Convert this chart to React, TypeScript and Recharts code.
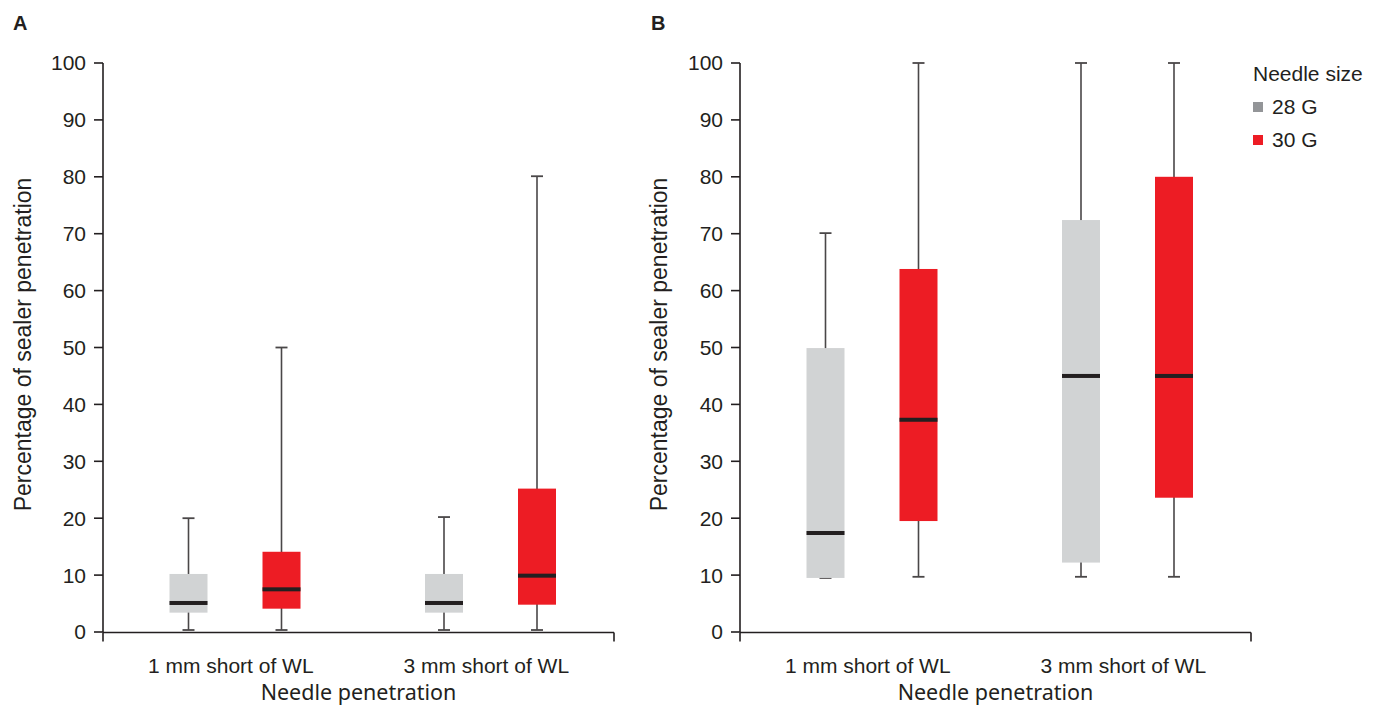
import React from 'react';
import { ComposedChart, Bar, XAxis, YAxis } from 'recharts';

// ---------- data ----------
const CATEGORIES = ['1 mm short of WL', '3 mm short of WL'];
const Y_TICKS = [0, 10, 20, 30, 40, 50, 60, 70, 80, 90, 100];
const SERIES_NAMES = ['28 G', '30 G'];

// Panel A
const A_28_MIN = [0.35, 0.35];
const A_28_Q1 = [3.4, 3.4];
const A_28_MED = [5.1, 5.1];
const A_28_Q3 = [10.2, 10.2];
const A_28_MAX = [20, 20.2];

const A_30_MIN = [0.35, 0.35];
const A_30_Q1 = [4.1, 4.8];
const A_30_MED = [7.5, 9.9];
const A_30_Q3 = [14.1, 25.2];
const A_30_MAX = [50, 80.1];

// Panel B
const B_28_MIN = [9.5, 9.7];
const B_28_Q1 = [9.5, 12.2];
const B_28_MED = [17.4, 45];
const B_28_Q3 = [49.9, 72.4];
const B_28_MAX = [70.1, 100];

const B_30_MIN = [9.7, 9.7];
const B_30_Q1 = [19.5, 23.6];
const B_30_MED = [37.3, 45];
const B_30_Q3 = [63.8, 80];
const B_30_MAX = [100, 100];

// ---------- styles ----------
const BOX_FILL_28 = '#d1d3d4';
const BOX_FILL_30 = '#ed1c24';
const LEGEND_FILL_28 = '#939598';
const LEGEND_FILL_30 = '#ed1c24';
const INK = '#231f20';
const WHISKER = '#4a4748';
const SHIFT = 4.5;
const ARIAL = '"Liberation Sans", Arial, sans-serif';

type Stats = { min: number; q1: number; med: number; q3: number; max: number };

const build = (a: number[][], b: number[][]) =>
  CATEGORIES.map((c, i) => ({
    category: c,
    g28: { min: a[0][i], q1: a[1][i], med: a[2][i], q3: a[3][i], max: a[4][i] } as Stats,
    g30: { min: b[0][i], q1: b[1][i], med: b[2][i], q3: b[3][i], max: b[4][i] } as Stats,
  }));

const DATA_A = build(
  [A_28_MIN, A_28_Q1, A_28_MED, A_28_Q3, A_28_MAX],
  [A_30_MIN, A_30_Q1, A_30_MED, A_30_Q3, A_30_MAX]
);
const DATA_B = build(
  [B_28_MIN, B_28_Q1, B_28_MED, B_28_Q3, B_28_MAX],
  [B_30_MIN, B_30_Q1, B_30_MED, B_30_Q3, B_30_MAX]
);

const makeBoxShape = (key: 'g28' | 'g30', fill: string) => (props: any) => {
  const { x, y, width, height, payload } = props;
  const s: Stats = payload[key];
  const top = Math.min(y, y + height);
  const h = Math.abs(height);
  const span = s.max - s.min || 1;
  const py = (v: number) => top + (h * (s.max - v)) / span;
  const cx = x + width / 2 + SHIFT;
  const left = x + SHIFT;
  const capW = 12;
  return (
    <g>
      <line x1={cx} x2={cx} y1={py(s.max)} y2={py(s.min)} stroke={WHISKER} strokeWidth={1.6} />
      <line x1={cx - capW / 2} x2={cx + capW / 2} y1={py(s.max)} y2={py(s.max)} stroke={WHISKER} strokeWidth={1.8} />
      <line x1={cx - capW / 2} x2={cx + capW / 2} y1={py(s.min)} y2={py(s.min)} stroke={WHISKER} strokeWidth={1.8} />
      <rect x={left} y={py(s.q3)} width={width} height={py(s.q1) - py(s.q3)} fill={fill} />
      <rect x={left} y={py(s.med) - 2} width={width} height={4} fill={INK} />
    </g>
  );
};

const LegendBlock = ({ left, top }: { left: number; top: number }) => (
  <div style={{ position: 'absolute', left, top, fontFamily: ARIAL, fontSize: 21, color: INK, width: 130, height: 100 }}>
    <div style={{ position: 'absolute', left: 0, top: 0, lineHeight: '24px', whiteSpace: 'nowrap' }}>Needle size</div>
    {SERIES_NAMES.map((n, i) => (
      <div key={n} style={{ position: 'absolute', left: 0, top: 33 + i * 33, height: 24, display: 'flex', alignItems: 'center', whiteSpace: 'nowrap' }}>
        <span style={{ display: 'inline-block', width: 10, height: 10, background: i === 0 ? LEGEND_FILL_28 : LEGEND_FILL_30, marginRight: 9 }} />
        <span style={{ lineHeight: '24px' }}>{n}</span>
      </div>
    ))}
  </div>
);

type PanelProps = {
  data: any[];
  left: number;
  width: number;
  yAxisWidth: number;
  marginRight: number;
  yTitleX: number;
};

const EmptyTick = () => <g />;

const Panel = ({ data, left, width, yAxisWidth, marginRight, yTitleX }: PanelProps) => (
  <div style={{ position: 'absolute', left, top: 0, width, height: 708 }}>
    <ComposedChart
      width={width}
      height={708}
      data={data}
      margin={{ top: 63, right: marginRight, left: 0, bottom: 0 }}
      barSize={38}
      barGap={55}
    >
      <XAxis
        xAxisId="cat"
        dataKey="category"
        type="category"
        height={0.5}
        axisLine={false}
        tickLine={false}
        tickSize={9}
        tickMargin={17}
        interval={0}
        tick={{ fill: INK, fontSize: 21, fontFamily: ARIAL }}
      />
      <XAxis
        xAxisId="grid"
        type="number"
        domain={[0, CATEGORIES.length]}
        allowDataOverflow
        ticks={CATEGORIES.map((_, i) => i).concat([CATEGORIES.length])}
        interval={0}
        tick={EmptyTick}
        tickSize={9}
        height={75.5}
        axisLine={{ stroke: INK, strokeWidth: 1.6 }}
        tickLine={{ stroke: INK, strokeWidth: 1.6 }}
        label={(p: any) => {
          const vb = p.viewBox;
          return (
            <text
              x={vb.x + vb.width / 2}
              y={vb.y + 67}
              textAnchor="middle"
              fill={INK}
              fontSize={21.5}
              fontFamily='"Noto Sans", sans-serif'
            >
              Needle penetration
            </text>
          );
        }}
      />
      <YAxis
        type="number"
        domain={[0, 100]}
        ticks={Y_TICKS}
        interval={0}
        width={yAxisWidth}
        tickSize={9}
        tickMargin={8}
        axisLine={{ stroke: INK, strokeWidth: 1.6 }}
        tickLine={{ stroke: INK, strokeWidth: 1.6 }}
        tick={{ fill: INK, fontSize: 21, fontFamily: ARIAL }}
        label={(p: any) => {
          const vb = p.viewBox;
          const cy = vb.y + vb.height / 2 - 3;
          return (
            <text
              x={yTitleX}
              y={cy}
              transform={`rotate(-90 ${yTitleX} ${cy})`}
              textAnchor="middle"
              dominantBaseline="central"
              fill={INK}
              fontSize={23}
              fontFamily={ARIAL}
            >
              Percentage of sealer penetration
            </text>
          );
        }}
      />
      <Bar
        xAxisId="cat"
        name={SERIES_NAMES[0]}
        dataKey={(d: any) => [d.g28.min, d.g28.max]}
        fill={BOX_FILL_28}
        shape={makeBoxShape('g28', BOX_FILL_28)}
        isAnimationActive={false}
      />
      <Bar
        xAxisId="cat"
        name={SERIES_NAMES[1]}
        dataKey={(d: any) => [d.g30.min, d.g30.max]}
        fill={BOX_FILL_30}
        shape={makeBoxShape('g30', BOX_FILL_30)}
        isAnimationActive={false}
      />
    </ComposedChart>
  </div>
);

const Letter = ({ text, left }: { text: string; left: number }) => (
  <div style={{ position: 'absolute', left, top: 13, fontFamily: ARIAL, fontWeight: 'bold', fontSize: 20, lineHeight: '20px', color: INK }}>
    {text}
  </div>
);

export default function App() {
  return (
    <div style={{ position: 'absolute', left: 0, top: 0, width: 1383, height: 708, background: '#fff', overflow: 'hidden' }}>
      <Panel data={DATA_A} left={0} width={640} yAxisWidth={103} marginRight={26} yTitleX={23} />
      <Panel data={DATA_B} left={640} width={743} yAxisWidth={100} marginRight={132} yTitleX={19} />
      <LegendBlock left={1253} top={62} />
      <Letter text="A" left={13} />
      <Letter text="B" left={651} />
    </div>
  );
}
